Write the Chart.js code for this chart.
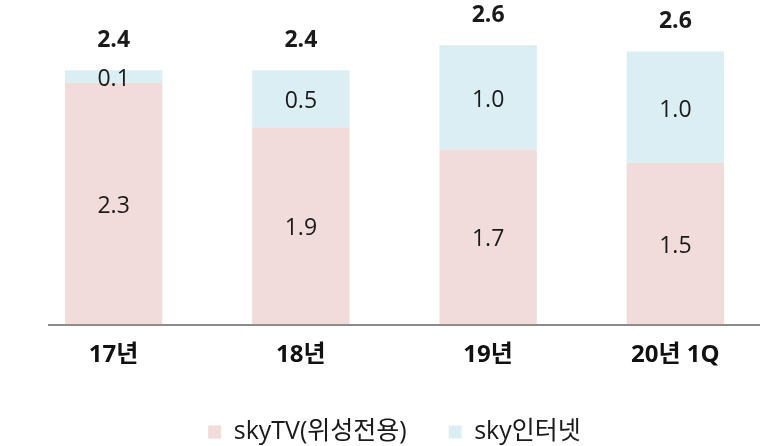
<!DOCTYPE html>
<html>
<head>
<meta charset="utf-8">
<script src="https://cdn.jsdelivr.net/npm/chart.js@4"></script>
<style>
  html, body { margin: 0; padding: 0; background: #fff; overflow: hidden; }
  #wrap { width: 769px; height: 446px; }
</style>
</head>
<body>
<div id="wrap"><canvas id="bar-chart" width="769" height="446"></canvas></div>
<script>
const years = ['17년', '18년', '19년', '20년 1Q'];
const tvValues = [2.32, 1.89, 1.68, 1.55];
const netValues = [0.12, 0.55, 1.0, 1.07];
const tvLabels = ['2.3', '1.9', '1.7', '1.5'];
const netLabels = ['0.1', '0.5', '1.0', '1.0'];
const totalLabels = ['2.4', '2.4', '2.6', '2.6'];

const font = "'Open Sans', 'Noto Sans CJK KR', sans-serif";

// baseline under the bars + value labels on each segment
const labelPlugin = {
    id: 'segmentLabels',
    beforeDatasetsDraw(chart) {
        const ctx = chart.ctx;
        const y = chart.scales.y.getPixelForValue(0);
        ctx.save();
        ctx.strokeStyle = '#8c8c8c';
        ctx.lineWidth = 2;
        ctx.beginPath();
        ctx.moveTo(chart.chartArea.left + 28, y + 1);
        ctx.lineTo(760, y + 1);
        ctx.stroke();
        ctx.restore();
    },
    afterDatasetsDraw(chart) {
        const ctx = chart.ctx;
        ctx.save();
        ctx.textAlign = 'center';
        ctx.textBaseline = 'middle';
        ctx.fillStyle = '#1a1a1a';
        ctx.font = '23px ' + font;
        const segLabels = [tvLabels, netLabels];
        chart.data.datasets.forEach((ds, i) => {
            chart.getDatasetMeta(i).data.forEach((bar, j) => {
                const mid = (bar.y + bar.base) / 2 + 3;
                ctx.fillText(segLabels[i][j], bar.x, mid);
            });
        });
        ctx.font = 'bold 23px ' + font;
        const top = chart.getDatasetMeta(1).data;
        top.forEach((bar, j) => {
            ctx.fillText(totalLabels[j], bar.x, bar.y - 30);
        });
        ctx.restore();
    }
};

new Chart(document.getElementById('bar-chart'), {
    type: 'bar',
    data: {
        labels: years,
        datasets: [{
            label: 'skyTV(위성전용)',
            data: tvValues,
            backgroundColor: '#f2dcdb',
            barPercentage: 0.52,
            categoryPercentage: 1
        }, {
            label: 'sky인터넷',
            data: netValues,
            backgroundColor: '#dbeef4',
            barPercentage: 0.52,
            categoryPercentage: 1
        }]
    },
    options: {
        responsive: false,
        animation: false,
        layout: { padding: { left: 20, right: 0, top: 0, bottom: -8.5 } },
        scales: {
            x: {
                stacked: true,
                grid: { display: false, drawTicks: false },
                border: { display: false },
                ticks: {
                    color: '#111',
                    padding: 17,
                    font: { family: font, size: 24, weight: 'bold' }
                },
                afterFit: (scale) => { scale.height = 53.5; }
            },
            y: {
                stacked: true,
                display: false,
                min: 0,
                max: 3.115
            }
        },
        plugins: {
            legend: {
                position: 'bottom',
                labels: {
                    color: '#1a1a1a',
                    boxWidth: 13,
                    boxHeight: 13,
                    padding: 42,
                    font: { family: font, size: 25 }
                }
            },
            tooltip: { enabled: false }
        }
    },
    plugins: [labelPlugin]
});
</script>
</body>
</html>
